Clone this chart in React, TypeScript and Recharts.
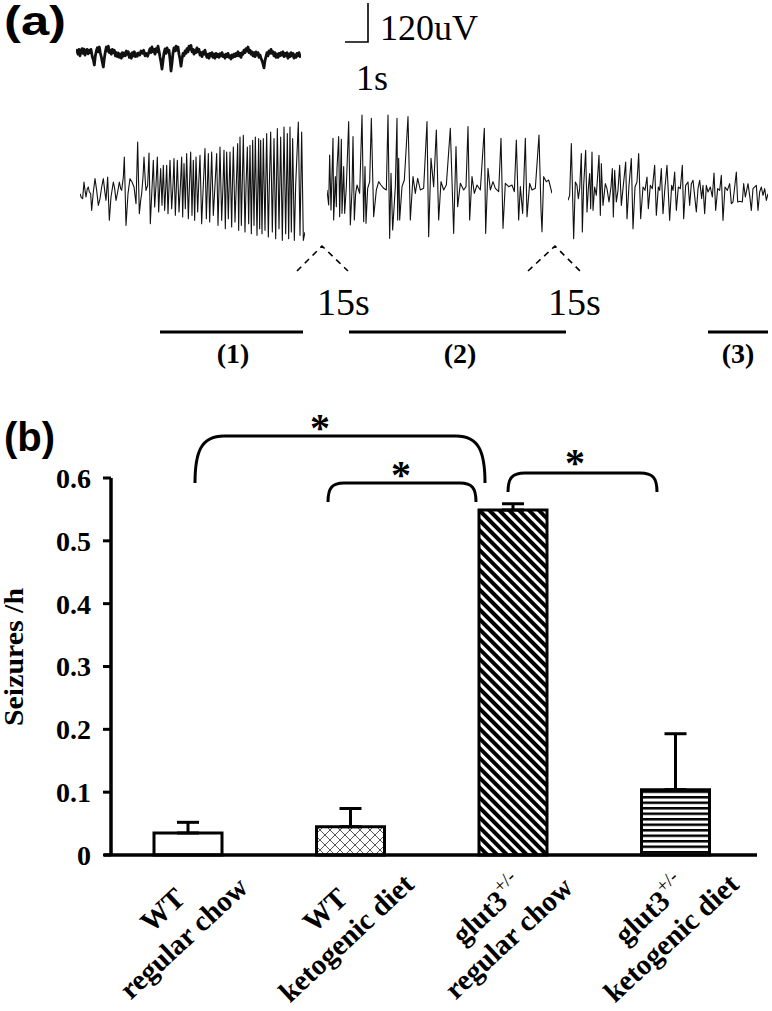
import React from "react";
import { BarChart, Bar, Cell, ErrorBar, XAxis, YAxis, LineChart, Line } from "recharts";

const SERIF = '"Liberation Serif", "Times New Roman", serif';
const SANS = '"Liberation Sans", Arial, sans-serif';

// ---- panel (a): EEG traces, [time, amplitude uV] ----
const baselineTrace: [number, number][] = [
  [45,5],[48,12],[51,2],[54,14],[57,-2],[60,10],[63,16],[66,4],[69,15],[72,0],[75,8],[78,14],[81,3],[84,12],[87,6],[90,14],[94,-5],[97,-12],[100,-25],[103,-2],[106,10],[109,18],[112,8],[115,20],[118,5],[121,-5],[124,-18],[127,-30],[130,-8],[133,8],[136,20],[139,10],[142,22],[145,6],[148,12],[151,2],[154,14],[157,6],[160,12],[163,-2],[166,6],[169,-4],[172,5],[175,-6],[178,2],[181,-8],[184,6],[187,-3],[190,5],[193,-2],[196,10],[199,2],[202,8],[205,-6],[208,2],[211,-8],[214,6],[217,-2],[220,8],[223,-4],[226,3],[229,-3],[232,5],[236,0],[240,10],[244,4],[248,12],[252,-2],[256,4],[260,-3],[264,8],[267,16],[270,6],[273,20],[276,8],[279,14],[282,2],[285,16],[288,8],[291,22],[294,10],[297,-5],[300,-18],[303,-35],[306,-15],[309,5],[312,15],[315,4],[318,18],[321,8],[324,12],[327,-10],[330,-40],[333,-20],[336,5],[339,18],[342,10],[345,22],[348,12],[351,20],[354,2],[357,-10],[360,-28],[363,-10],[366,4],[369,-2],[372,10],[375,4],[378,16],[381,8],[384,22],[387,14],[390,24],[393,8],[396,14],[399,2],[402,12],[405,6],[408,18],[411,8],[414,14],[417,0],[420,6],[423,-4],[426,8],[429,2],[432,12],[435,0],[438,-6],[441,2],[444,-8],[447,4],[450,-2],[453,6],[456,-6],[459,2],[462,-8],[465,4],[468,-4],[471,2],[474,-6],[477,3],[480,-2],[483,6],[486,-4],[489,0],[492,-8],[495,2],[498,-4],[501,4],[504,-6],[507,-2],[510,-10],[513,0],[516,-6],[519,2],[522,-4],[525,4],[528,-2],[531,8],[534,-2],[537,4],[540,-6],[543,6],[546,2],[549,12],[552,6],[555,16],[558,10],[561,20],[564,6],[567,12],[570,2],[573,8],[576,-2],[579,6],[582,-4],[585,8],[588,0],[591,6],[594,-6],[597,0],[600,-8],[603,-14],[606,-22],[609,-32],[612,-14],[615,-4],[618,6],[621,-2],[624,10],[627,4],[630,14],[633,4],[636,8],[639,-2],[642,6],[645,-6],[648,2],[651,-6],[654,4],[657,-2],[660,6],[663,0],[666,8],[669,-4],[672,4],[675,-2],[678,6],[681,-8],[684,2],[687,-4],[690,6],[693,-2],[696,4],[699,-8],[702,0],[705,-6],[708,4],[711,-2],[714,6],[717,-4],[720,2],
];

const seizure1: [number, number][] = [
  [30,-5],[34,-17],[38,-20],[42,30],[45,5],[48,-15],[52,10],[55,15],[58,0],[62,-5],[65,-55],[70,0],[75,40],[80,5],[85,-40],[90,-20],[95,15],[100,40],[104,5],[108,-25],[113,45],[118,-85],[123,-15],[130,30],[134,10],[138,-25],[143,0],[148,30],[152,10],[155,5],[160,45],[163,105],[168,-100],[174,-5],[180,40],[186,30],[192,15],[198,-35],[203,150],[208,-65],[212,-25],[215,-5],[219,45],[222,105],[226,30],[228,5],[233,20],[237,117],[241,-95],[245,-10],
  [250,95],[254,-45],[258,20],[262,105],[266,-60],[269,10],[272,70],[276,-40],[280,80],[284,-55],[287,5],[290,80],[294,-65],[297,15],[300,95],[305,-50],[309,20],[312,100],[316,-70],[319,10],[322,95],[327,-60],[331,15],[335,105],[338,-75],[342,85],[346,-50],[350,115],[355,-80],[358,10],[362,120],[366,-70],[370,95],[374,-85],[378,105],[383,-60],[386,20],[390,110],[395,-95],[399,0],
  [405,130],[409,-80],[412,15],[415,115],[419,-90],[425,120],[430,-70],[435,20],[440,115],[444,-100],[447,10],[450,135],[455,-85],[459,20],[462,125],[466,-110],[470,120],[475,-80],[480,120],[485,-105],[487,10],[490,135],[495,-90],[499,25],[503,145],[506,-115],[510,165],[514,-100],[520,170],[525,-120],[528,15],[532,135],[536,-95],[540,140],[544,-125],[548,155],[552,-100],
  [556,165],[561,-130],[566,160],[569,-110],[572,155],[576,-125],[580,160],[585,-115],[587,10],[590,175],[595,-135],[598,20],[602,180],[607,-120],[612,160],[617,-140],[622,190],[627,-110],[632,165],[637,-145],[642,195],[647,-125],[652,175],[656,-140],[660,195],[664,-120],[668,160],[673,-145],[677,20],[685,210],[690,-130],[695,180],[700,-145],[705,-120],
];

const seizure2: [number, number][] = [
  [50,0],[55,-45],[58,105],[62,-60],[68,155],[70,-90],[75,40],[78,-50],[80,65],[85,160],[88,-80],[93,152],[95,-70],[100,70],[103,-70],[108,10],[115,205],[120,-105],[125,0],[128,160],[132,-90],[136,-10],[140,15],[148,-10],[155,225],[160,-95],[164,70],[167,-100],[172,5],[178,25],[183,215],[190,-80],[198,0],[205,25],[212,15],[220,5],[228,0],[233,225],[238,-145],[242,50],[247,-120],[255,10],[260,215],[262,-90],[265,95],[268,-90],[275,10],[282,30],[293,220],[300,-90],[308,40],[315,-10],[322,35],[330,0],[340,5],[350,205],[355,-140],[362,95],[370,10],[378,180],[385,-90],[392,25],[400,0],[408,15],[420,185],[430,-130],[437,130],[442,-50],[450,20],[460,0],[467,10],[473,190],[478,-90],[485,40],[492,-10],[500,15],[510,0],[522,185],[526,-130],[533,65],[540,0],[548,25],[555,5],[565,-5],[572,155],[578,-115],[585,20],[595,10],[605,15],[612,-5],[618,150],[625,-90],[630,10],[637,-70],[645,155],[650,-80],[658,20],[665,0],[675,5],[686,165],[692,-60],[695,-125],[700,40],[708,25],[715,30],[725,-10],
];

const seizure3: [number, number][] = [
  [25,-25],[30,-10],[35,145],[42,-140],[47,30],[52,20],[56,-20],[60,10],[65,115],[68,-120],[72,20],[78,125],[82,-60],[86,10],[90,55],[93,-50],[97,120],[100,-55],[105,15],[110,-10],[118,110],[122,-70],[125,85],[130,-40],[137,25],[142,10],[148,-30],[154,15],[158,70],[161,-75],[165,65],[170,-30],[175,5],[180,80],[185,-40],[190,10],[198,90],[202,-80],[208,20],[215,100],[220,-110],[226,15],[232,30],[237,115],[243,-80],[250,15],[256,5],[262,45],[266,-50],[272,20],[278,10],[285,80],[290,-70],[296,15],[300,5],[305,70],[310,-65],[316,15],[322,80],[330,-85],[336,20],[340,5],[345,60],[350,-55],[356,15],[362,10],[368,80],[372,-80],[378,20],[385,30],[390,-40],[395,25],[400,35],[410,-60],[415,10],[420,35],[426,-20],[430,20],[435,-65],[440,20],[445,0],[452,15],[458,-15],[463,57],[468,-55],[474,10],[480,5],[485,50],[490,-85],[496,15],[503,5],[510,25],[515,-35],[520,-30],[530,60],[534,-30],[540,-28],[548,-30],[552,25],[557,-15],[565,25],[570,-10],[575,-55],[580,10],[590,20],[595,-55],[600,0],[605,15],[610,-10],[615,10],[620,-25],[625,-5],
];

// ---- panel (b): seizure frequency ----
const groups = ["WT chow", "WT keto", "glut3 chow", "glut3 keto"];
const genotype = ["WT", "WT", "glut3", "glut3"];
const diet = ["regular chow", "ketogenic diet", "regular chow", "ketogenic diet"];
const seizuresPerHour = [0.035, 0.045, 0.549, 0.104];
const seizuresSem = [0.017, 0.029, 0.01, 0.089];
const yTicks = [0, 0.1, 0.2, 0.3, 0.4, 0.5, 0.6];
const barFills = ["#ffffff", "url(#crossHatch)", "url(#diagHatch)", "url(#horizHatch)"];

const barData = groups.map((g, i) => ({
  group: g,
  rate: seizuresPerHour[i],
  sem: [0, seizuresSem[i]],
}));

function Trace(props: {
  points: [number, number][];
  left: number;
  top: number;
  width: number;
  height: number;
  domain: [number, number];
  strokeWidth: number;
}) {
  const data = props.points.map(([t, v]) => ({ t, v }));
  return (
    <div style={{ position: "absolute", left: props.left, top: props.top }}>
      <LineChart width={props.width} height={props.height} data={data} margin={{ top: 0, right: 0, bottom: 0, left: 0 }}>
        <XAxis dataKey="t" type="number" domain={["dataMin", "dataMax"]} hide />
        <YAxis type="number" domain={props.domain} hide allowDataOverflow />
        <Line
          dataKey="v"
          type="linear"
          stroke="#111"
          strokeWidth={props.strokeWidth}
          dot={false}
          strokeLinejoin="round"
          isAnimationActive={false}
        />
      </LineChart>
    </div>
  );
}

function GroupTick(props: any) {
  const { x, payload } = props;
  const i = groups.indexOf(payload.value);
  const ang = -43;
  const x2 = x + 2;
  const y2 = 545;
  const x1 = x - 19;
  const y1 = 517;
  const style = { fontFamily: SERIF, fontWeight: "bold" as const, fontSize: 29, fill: "#000" };
  return (
    <g>
      <text x={x1} y={y1} textAnchor="middle" transform={`rotate(${ang} ${x1} ${y1})`} style={style}>
        {genotype[i]}
        {i >= 2 && (
          <tspan dy={-13} style={{ fontSize: 19, fontWeight: "normal" }}>
            +/-
          </tspan>
        )}
      </text>
      <text x={x2} y={y2} textAnchor="middle" transform={`rotate(${ang} ${x2} ${y2})`} style={style}>
        {diet[i]}
      </text>
    </g>
  );
}

const TRACE_DOMAIN: [number, number] = [-174, 276];

export default function App() {
  return (
    <div style={{ position: "absolute", left: 0, top: 0, width: 772, height: 1011, background: "#fff" }}>
      <Trace points={baselineTrace} left={76} top={33} width={225} height={44} domain={[-55, 55]} strokeWidth={2.8} />
      <Trace points={seizure1} left={80} top={99.7} width={225} height={150} domain={TRACE_DOMAIN} strokeWidth={1.1} />
      <Trace points={seizure2} left={326.7} top={98} width={225} height={150} domain={TRACE_DOMAIN} strokeWidth={1.1} />
      <Trace points={seizure3} left={568.3} top={99.7} width={200} height={150} domain={TRACE_DOMAIN} strokeWidth={1.1} />

      <div style={{ position: "absolute", left: 0, top: 400 }}>
        <BarChart width={772} height={611} data={barData} margin={{ top: 78, right: 15, bottom: 6, left: 51 }} barSize={68}>
          <defs>
            <pattern id="diagHatch" patternUnits="userSpaceOnUse" width={7} height={7} patternTransform="rotate(-45)">
              <rect x={0} y={0} width={4} height={7} fill="#000" />
              <rect x={4} y={0} width={3} height={7} fill="#fff" />
            </pattern>
            <pattern id="horizHatch" patternUnits="userSpaceOnUse" width={6} height={5.5}>
              <rect x={0} y={0} width={6} height={5.5} fill="#fff" />
              <rect x={0} y={0} width={6} height={2.5} fill="#000" />
            </pattern>
            <pattern id="crossHatch" patternUnits="userSpaceOnUse" width={10} height={10}>
              <rect x={0} y={0} width={10} height={10} fill="#fff" />
              <path d="M0,0 L10,10 M10,0 L0,10" stroke="#444" strokeWidth={0.9} />
            </pattern>
          </defs>
          <XAxis
            dataKey="group"
            height={150}
            interval={0}
            tickLine={false}
            axisLine={{ stroke: "#000", strokeWidth: 3.5 }}
            tick={<GroupTick />}
            padding={{ left: -4, right: 0 }}
          />
          <YAxis
            width={60}
            domain={[0, 0.6]}
            ticks={yTicks}
            interval={0}
            tickFormatter={(v: number) => (v === 0 ? "0" : v.toFixed(1))}
            axisLine={{ stroke: "#000", strokeWidth: 3.5 }}
            tickLine={{ stroke: "#000", strokeWidth: 3 }}
            tickSize={8}
            tickMargin={12}
            tick={{ fill: "#000", fontSize: 28, fontWeight: "bold", fontFamily: SERIF }}
          />
          <Bar dataKey="rate" stroke="#000" strokeWidth={3} isAnimationActive={false}>
            {barData.map((d, i) => (
              <Cell key={d.group} fill={barFills[i]} />
            ))}
            <ErrorBar dataKey="sem" direction="y" width={11} stroke="#000" strokeWidth={3} />
          </Bar>
        </BarChart>
      </div>

      <svg width={772} height={1011} style={{ position: "absolute", left: 0, top: 0, pointerEvents: "none" }}>
        <g fill="#000">
          <text x={4} y={35} fontFamily={SANS} fontWeight="bold" fontSize={40} textLength={62} lengthAdjust="spacingAndGlyphs">(a)</text>
          <text x={4} y={451} fontFamily={SANS} fontWeight="bold" fontSize={40}>(b)</text>
          <text x={380} y={40} fontFamily={SERIF} fontSize={36}>120uV</text>
          <text x={356} y={90} fontFamily={SERIF} fontSize={36}>1s</text>
          <text x={317} y={315} fontFamily={SERIF} fontSize={38}>15s</text>
          <text x={548} y={315} fontFamily={SERIF} fontSize={38}>15s</text>
          <text x={233} y={363} textAnchor="middle" fontFamily={SERIF} fontWeight="bold" fontSize={28}>(1)</text>
          <text x={460} y={363} textAnchor="middle" fontFamily={SERIF} fontWeight="bold" fontSize={28}>(2)</text>
          <text x={738} y={363} textAnchor="middle" fontFamily={SERIF} fontWeight="bold" fontSize={28}>(3)</text>
          <text
            x={23}
            y={657}
            textAnchor="middle"
            transform="rotate(-90 23 657)"
            fontFamily={SERIF}
            fontWeight="bold"
            fontSize={27}
            textLength={138}
            lengthAdjust="spacingAndGlyphs"
          >
            Seizures /h
          </text>
          <text x={320} y={441} textAnchor="middle" fontFamily={SERIF} fontWeight="bold" fontSize={40}>*</text>
          <text x={401} y={488} textAnchor="middle" fontFamily={SERIF} fontWeight="bold" fontSize={40}>*</text>
          <text x={575} y={476} textAnchor="middle" fontFamily={SERIF} fontWeight="bold" fontSize={40}>*</text>
        </g>
        <g stroke="#000" fill="none">
          <path d="M345 42 H368 V3" strokeWidth={1.6} />
          <path d="M297 271 L322 246 L348 271" strokeWidth={1.6} strokeDasharray="6 5" />
          <path d="M528 271 L555 246 L580 271" strokeWidth={1.6} strokeDasharray="6 5" />
          <path d="M160 332 H303 M349 332 H566 M708 332 H768" strokeWidth={3} />
          <path d="M195 483 C195 452 201 436 224 436 L456 436 C479 436 485 452 485 483" strokeWidth={3} />
          <path d="M328 502 C328 488 332 483 344 483 L460 483 C472 483 476 488 476 502" strokeWidth={3} />
          <path d="M508 492 C508 478 512 473 525 473 L640 473 C653 473 657 478 657 492" strokeWidth={3} />
          <path d="M104 855 H111" strokeWidth={3.5} />
        </g>
      </svg>
    </div>
  );
}
